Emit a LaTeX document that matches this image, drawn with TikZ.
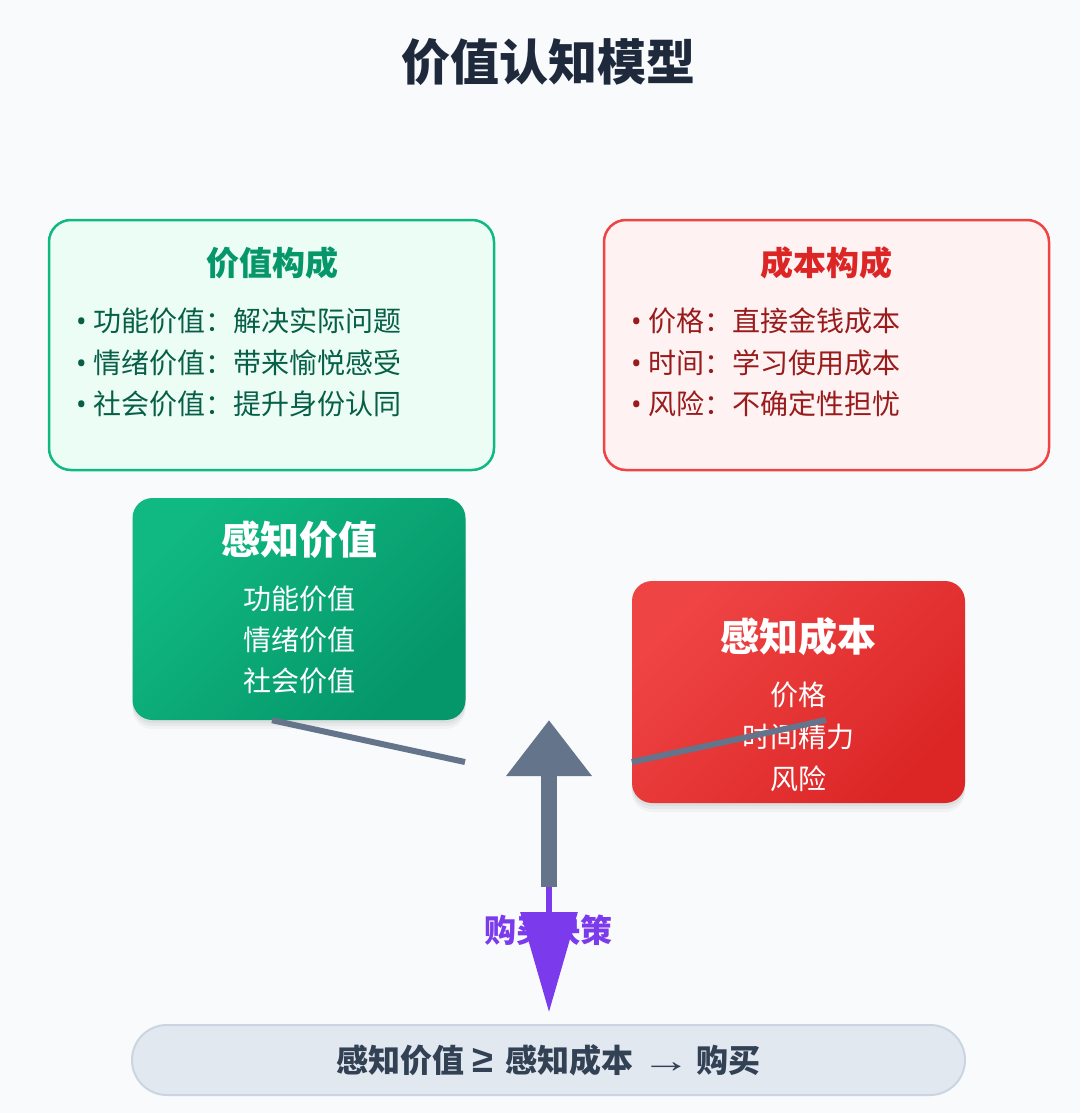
\documentclass[tikz,border=0pt]{standalone}
\usepackage{fontspec}
\setmainfont{Noto Sans CJK SC}
\newfontfamily\latinsans{Noto Sans}
\newfontfamily\symsans{Liberation Sans}
\usetikzlibrary{positioning, calc}
\usetikzlibrary{arrows.meta, shadows}

\definecolor{pagebg}{HTML}{F8FAFC}
\definecolor{titleink}{HTML}{1E293B}
\definecolor{valline}{HTML}{10B981}
\definecolor{valfill}{HTML}{ECFDF5}
\definecolor{valhead}{HTML}{059669}
\definecolor{valitem}{HTML}{065F46}
\definecolor{costline}{HTML}{EF4444}
\definecolor{costfill}{HTML}{FEF2F2}
\definecolor{costhead}{HTML}{DC2626}
\definecolor{costitem}{HTML}{991B1B}
\definecolor{linkgray}{HTML}{64748B}
\definecolor{decpurple}{HTML}{7C3AED}
\definecolor{rulefill}{HTML}{E2E8F0}
\definecolor{ruleline}{HTML}{CBD5E1}
\definecolor{ruleink}{HTML}{334155}

\newcommand{\sz}[1]{\fontsize{#1}{#1}\selectfont}
\newcommand{\dotmark}{{\latinsans •}\ }
\newcommand{\geqmark}{{\symsans\sz{38}≥}}
\newcommand{\tomark}{{\symsans\mdseries\sz{34}\scalebox{1.45}[1]{→}}}

\tikzset{
    framebox/.style = {draw, line width=2.5pt, rounded corners=22pt,
        minimum width=445pt, minimum height=250pt, inner sep=0pt},
    percbox/.style = {rounded corners=20pt, minimum width=333pt,
        minimum height=222pt, inner sep=0pt,
        drop shadow={shadow xshift=0pt, shadow yshift=-3pt, opacity=0.04, fill=black},
        drop shadow={shadow xshift=0pt, shadow yshift=-6pt, opacity=0.04, fill=black},
        drop shadow={shadow xshift=0pt, shadow yshift=-9pt, opacity=0.03, fill=black}},
    headtext/.style = {font=\bfseries\sz{33}},
    itemtext/.style = {font=\sz{28}, anchor=west, inner sep=0pt},
    perchead/.style = {font=\bfseries\sz{39}, text=white},
    percitem/.style = {font=\sz{28}, text=white, inner sep=0pt},
    linkline/.style = {draw=linkgray, line width=6pt},
}

\begin{document}
\begin{tikzpicture}[x=1pt, y=-1pt]
    \fill[pagebg] (0,0) rectangle (1080,1113);
    \useasboundingbox (0,0) rectangle (1080,1113);

    % title
    \node[font=\bfseries\sz{49}, text=titleink] (title) at (548,62) {价值认知模型};

    % upper boxes
    \node[framebox, draw=valline, fill=valfill] (valbox) at (271.5,345) {};
    \node[headtext, text=valhead] (valhead) at (272,263) {价值构成};
    \foreach \txt [count=\i] in {功能价值：解决实际问题, 情绪价值：带来愉悦感受, 社会价值：提升身份认同}
        \node[itemtext, text=valitem] (valitem\i) at (76,279.5+41.5*\i) {\dotmark\txt};

    \node[framebox, draw=costline, fill=costfill] (costbox) at (826.5,345) {};
    \node[headtext, text=costhead] (costhead) at (826,263) {成本构成};
    \foreach \txt [count=\i] in {价格：直接金钱成本, 时间：学习使用成本, 风险：不确定性担忧}
        \node[itemtext, text=costitem] (costitem\i) at (631,279.5+41.5*\i) {\dotmark\txt};

    % perceived value / cost
    \node[percbox, top color=valline, bottom color=valhead, shading angle=45] (pv) at (299,609) {};
    \node[perchead] (pvhead) at (299,540) {感知价值};
    \foreach \txt [count=\i] in {功能价值, 情绪价值, 社会价值}
        \node[percitem] (pvitem\i) at (299,558+41*\i) {\txt};

    \node[percbox, top color=costline, bottom color=costhead, shading angle=45] (pc) at (798.5,692) {};
    \node[perchead] (pchead) at (798.5,637) {感知成本};
    \foreach \txt [count=\i] in {价格, 时间精力, 风险}
        \node[percitem] (pcitem\i) at (798.5,653+42*\i) {\txt};

    % links
    \coordinate (vend) at (465,762);
    \coordinate (cend) at (826,720);
    \draw[linkline] ($(pv.south west)!0.419!(pv.south east)$) -- (vend);
    \draw[linkline] ($(pc.south west)!0.185!(pc.north west)$) -- (cend);

    % decision
    \coordinate (decbase) at (549,887);
    \coordinate (decpeak) at (549,720);
    \node[font=\bfseries\sz{32}, text=decpurple] (declabel) at (548,930) {购买决策};
    \node[draw=ruleline, fill=rulefill, line width=2pt, rounded corners=35pt,
        minimum width=833pt, minimum height=70pt, font=\bfseries\sz{32}, text=ruleink]
        (rule) at (548.5,1060) {感知价值\hspace{8pt}\geqmark\hspace{12pt}感知成本\hspace{8pt}\tomark\hspace{6pt}购买};
    \draw[decpurple, line width=6pt, -{Triangle[length=100pt, width=56pt]}, shorten >=12pt]
        (decbase) -- (decbase |- rule.north);
    \draw[linkgray, line width=16pt, -{Triangle[length=56pt, width=82pt]}]
        (decbase) -- (decpeak);
\end{tikzpicture}
\end{document}
